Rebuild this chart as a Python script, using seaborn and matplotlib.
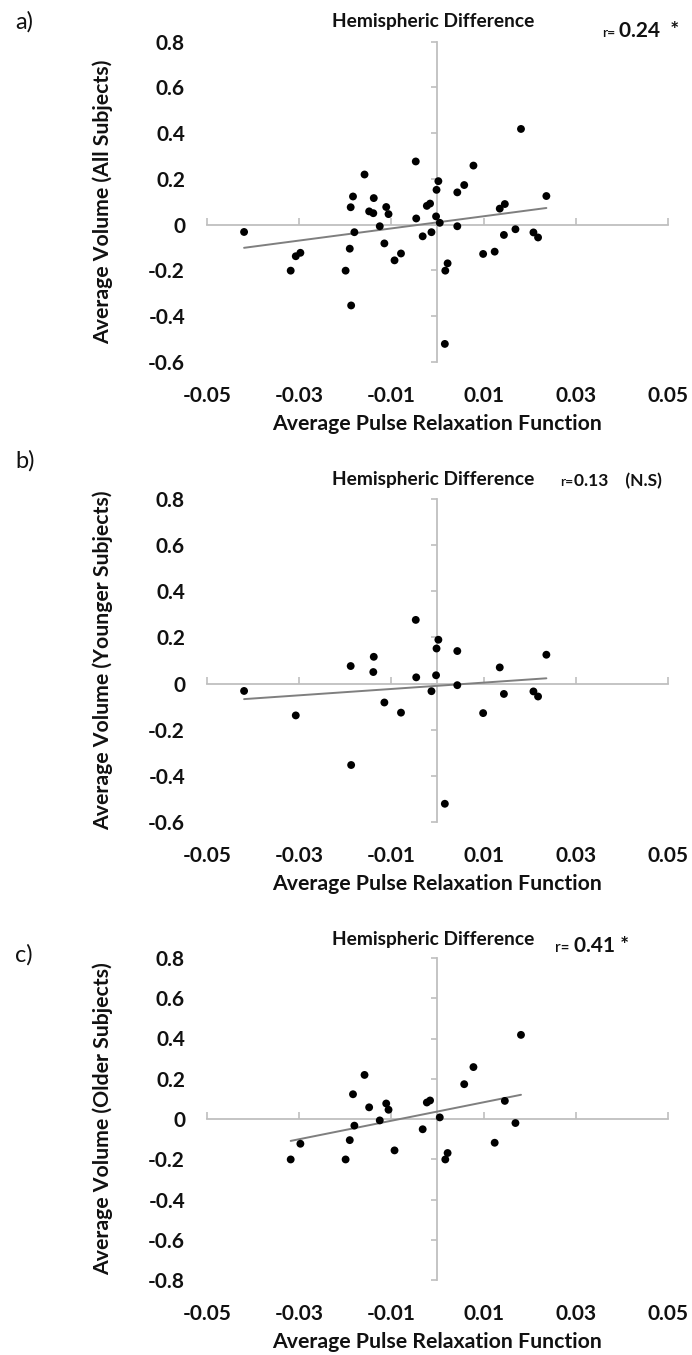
import numpy as np
import pandas as pd
import matplotlib
matplotlib.use("Agg")
import matplotlib.pyplot as plt
import seaborn as sns

# ---------------- data ----------------
younger_x = [-0.0419, -0.0307, -0.0188, -0.0187, -0.0138, -0.0139, -0.0115, -0.0079,
             -0.0047, -0.0046, -0.0013, -0.0003, -0.0002, 0.0002, 0.0016, 0.0043,
             0.0043, 0.0099, 0.0135, 0.0144, 0.0208, 0.0218, 0.0236]
younger_y = [-0.032, -0.138, 0.076, -0.353, 0.116, 0.050, -0.082, -0.126,
             0.276, 0.027, -0.033, 0.036, 0.152, 0.190, -0.521, 0.141,
             -0.007, -0.128, 0.070, -0.045, -0.034, -0.056, 0.125]

older_x = [-0.0318, -0.0297, -0.0199, -0.0190, -0.0183, -0.0180, -0.0158, -0.0148,
           -0.0125, -0.0111, -0.0106, -0.0093, -0.0032, -0.0023, -0.0016, 0.0005,
           0.0017, 0.0022, 0.0058, 0.0078, 0.0124, 0.0146, 0.0169, 0.0181]
older_y = [-0.201, -0.123, -0.201, -0.105, 0.123, -0.033, 0.219, 0.058,
           -0.007, 0.077, 0.046, -0.156, -0.051, 0.082, 0.092, 0.008,
           -0.201, -0.169, 0.173, 0.258, -0.118, 0.090, -0.020, 0.418]

all_x = younger_x + older_x
all_y = younger_y + older_y

x_ticks = [-0.05, -0.03, -0.01, 0.01, 0.03, 0.05]
x_tick_labels = ["-0.05", "-0.03", "-0.01", "0.01", "0.03", "0.05"]
y_ticks_ab = [-0.6, -0.4, -0.2, 0.0, 0.2, 0.4, 0.6, 0.8]
y_tick_labels_ab = ["-0.6", "-0.4", "-0.2", "0", "0.2", "0.4", "0.6", "0.8"]
y_ticks_c = [-0.8, -0.6, -0.4, -0.2, 0.0, 0.2, 0.4, 0.6, 0.8]
y_tick_labels_c = ["-0.8", "-0.6", "-0.4", "-0.2", "0", "0.2", "0.4", "0.6", "0.8"]

panel_letters = ["a)", "b)", "c)"]
y_titles = ["Average Volume (All Subjects)", "Average Volume (Younger Subjects)",
            "Average Volume (Older Subjects)"]
x_title = "Average Pulse Relaxation Function"
chart_title = "Hemispheric Difference"
r_prefix = ["r=", "r=", "r="]
r_values = ["0.24  *", "0.13    (N.S)", "0.41 *"]

# ---------------- style ----------------
sns.set_style("white")
plt.rcParams["font.family"] = ["Lato", "DejaVu Sans"]

W, H = 692, 1355
fig = plt.figure(figsize=(W / 100, H / 100), dpi=100)

AXIS_C = "#BFBFBF"
LINE_C = "#7F7F7F"
TXT_C = "#111111"

layout = [
    dict(top=41.5, bot=362.0, let_y=22, tit_y=21, r_y=37, r1x=602, r2x=619, rs1=10, rs2=15),
    dict(top=499.0, bot=822.0, let_y=461, tit_y=480, r_y=486, r1x=560, r2x=574, rs1=10, rs2=12.5),
    dict(top=958.0, bot=1280.0, let_y=955, tit_y=939, r_y=952, r1x=555, r2x=574, rs1=11, rs2=15),
]
data = [(all_x, all_y, y_ticks_ab, y_tick_labels_ab),
        (younger_x, younger_y, y_ticks_ab, y_tick_labels_ab),
        (older_x, older_y, y_ticks_c, y_tick_labels_c)]

left_px, right_px = 206.7, 668.2

for i, (L, (xs, ys, yt, ytl)) in enumerate(zip(layout, data)):
    ax = fig.add_axes([left_px / W, 1 - L["bot"] / H,
                       (right_px - left_px) / W, (L["bot"] - L["top"]) / H])
    df = pd.DataFrame({"x": xs, "y": ys})
    sns.regplot(data=df, x="x", y="y", ax=ax, scatter=False, ci=None,
                color=LINE_C, line_kws={"lw": 1.4, "zorder": 2})
    sns.scatterplot(data=df, x="x", y="y", ax=ax, color="black", s=32,
                    edgecolor="none", linewidth=0, zorder=3)
    ax.set_xlim(-0.05, 0.05)
    ax.set_ylim(yt[0], yt[-1])
    ax.set_xticks(x_ticks)
    ax.set_xticklabels(x_tick_labels, fontweight="bold", fontsize=15, color=TXT_C)
    ax.set_yticks(yt)
    ax.set_yticklabels(ytl, fontweight="bold", fontsize=15, color=TXT_C)
    ax.tick_params(axis="x", length=0, pad=17)
    ax.tick_params(axis="y", length=0, pad=15.6)
    for s in ax.spines.values():
        s.set_visible(False)
    ax.set_facecolor("none")

    ax.set_xlabel(x_title, fontweight="bold", fontsize=15.3, color=TXT_C)
    ax.set_ylabel(y_titles[i], fontweight="bold", fontsize=15.3, color=TXT_C)
    ah = L["bot"] - L["top"]
    aw = right_px - left_px
    ax.xaxis.label.set_verticalalignment("center")
    ax.xaxis.set_label_coords(0.5, -62 / ah)
    ax.yaxis.label.set_verticalalignment("center")
    ax.yaxis.set_label_coords(-104 / aw, 0.5)

    # crosshair axes through the origin
    xmin, xmax = ax.get_xlim()
    ymin, ymax = ax.get_ylim()
    fx = (0 - xmin) / (xmax - xmin)
    fy = (0 - ymin) / (ymax - ymin)
    sy = ax.secondary_yaxis(fx)
    sy.set_alignment("left")
    sy.set_yticks(yt)
    sy.tick_params(axis="y", direction="out", length=4, width=1.2, colors=AXIS_C,
                   labelleft=False, labelright=False)
    for s in sy.spines.values():
        s.set_color(AXIS_C)
        s.set_linewidth(1.3)
    sx = ax.secondary_xaxis(fy)
    sx.set_alignment("bottom")
    sx.set_xticks(x_ticks)
    sx.tick_params(axis="x", direction="in", length=5, width=1.2, colors=AXIS_C,
                   labelbottom=False, labeltop=False)
    for s in sx.spines.values():
        s.set_color(AXIS_C)
        s.set_linewidth(1.3)

    # texts
    fig.text(15 / W, 1 - L["let_y"] / H, panel_letters[i], fontsize=17,
             ha="left", va="center", color=TXT_C)
    fig.text(433 / W, 1 - L["tit_y"] / H, chart_title, fontsize=13.8,
             fontweight="bold", ha="center", va="center", color=TXT_C)
    fig.text(L["r1x"] / W, 1 - L["r_y"] / H, r_prefix[i], fontsize=L["rs1"],
             fontweight="semibold", ha="left", va="baseline", color=TXT_C)
    fig.text(L["r2x"] / W, 1 - L["r_y"] / H, r_values[i], fontsize=L["rs2"],
             fontweight="bold", ha="left", va="baseline", color=TXT_C)

fig.savefig("out.png", dpi=100, facecolor="white")
